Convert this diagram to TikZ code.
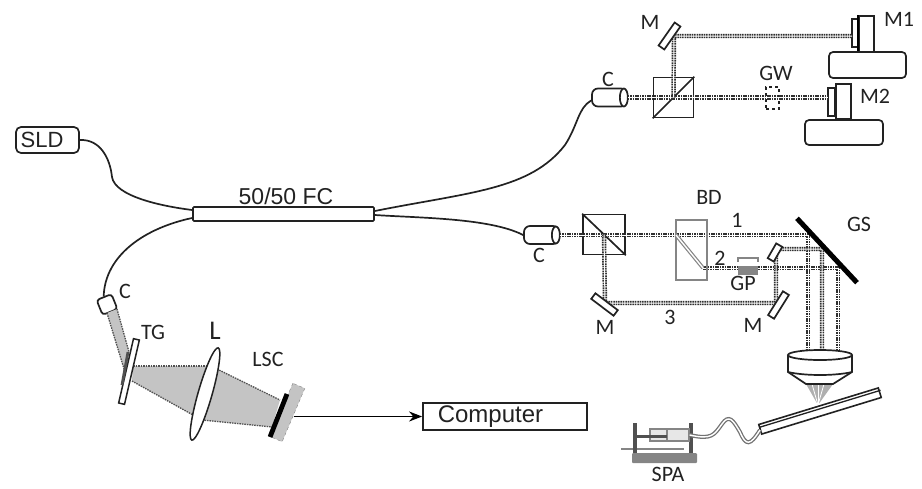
\documentclass[tikz,border=0pt]{standalone}
\usepackage{fontspec}
\setmainfont{Carlito}
\newfontfamily\arialfont{Liberation Sans}
\usepackage{tikz}
\usetikzlibrary{arrows.meta, shapes.geometric}
\definecolor{BeamGray}{HTML}{303030}
\definecolor{FillGray}{HTML}{C4C4C4}
\definecolor{BoxGray}{HTML}{858585}
\definecolor{PumpGray}{HTML}{505050}
\definecolor{LineDark}{HTML}{222222}
\tikzset{
  lbl/.style={font=\fontsize{22}{24}\selectfont, inner sep=0pt, text=LineDark},
  arialLbl/.style={font=\arialfont\fontsize{#1}{#1}\selectfont, inner sep=0pt, text=LineDark},
  arialLbl/.default=23,
  optic/.style={draw=LineDark, line width=1.7pt, inner sep=0pt},
  bscube/.style={optic, minimum width=40pt, minimum height=40pt},
  collim/.style={optic, fill=white, rounded corners=6pt, minimum width=35pt, minimum height=18pt},
  flatmirror/.style={optic, fill=white, minimum width=28pt, minimum height=7pt},
  fibre/.style={line width=1.7pt, color=LineDark},
  beam/.style={line width=4.4pt, color=BeamGray, dash pattern=on 1.6pt off .8pt,
    postaction={draw=white, solid, line width=1pt}},
  edgeDots/.style={draw=PumpGray, line width=1.3pt, dash pattern=on 1.5pt off 1pt},
  stagebox/.style={optic, rounded corners=4pt},
}
\begin{document}
\begin{tikzpicture}[x=1pt, y=-1pt]
\useasboundingbox (0,0) rectangle (922,488);

% Fibre part
\node[optic, rounded corners=5pt, minimum width=63pt, minimum height=26pt, arialLbl=22] at (47.5,140) (sld) {SLD\kern11pt};
\node[optic, rounded corners=1pt, minimum width=181pt, minimum height=14pt] at (283.5,214) (fc) {};
\node[arialLbl=23] at (286,196) (fclabel) {50/50 FC};
\node[collim] at (609.5,97.5) (cupper) {};
\draw[optic, fill=white] ([xshift=-4pt]cupper.east) ellipse [x radius=4, y radius=9];
\node[collim] at (541.5,235) (clower) {};
\draw[optic, fill=white] ([xshift=-4pt]clower.east) ellipse [x radius=4, y radius=8.5];
\node[optic, fill=white, rounded corners=3pt, minimum width=16pt, minimum height=16pt, rotate=22] at (107,304.5) (cleft) {};
\draw[fibre] (sld.east) .. controls (100,139) and (110,158) .. (112,177) .. controls (115,196) and (160,206) .. ([yshift=4pt]fc.west);
\draw[fibre] ([yshift=3pt]fc.east) .. controls (470,192) and (530,190) .. (565,145) .. controls (578,125) and (578,108) .. ([yshift=-3pt]cupper.west);
\draw[fibre] ([yshift=-1pt]fc.east) .. controls (420,218) and (490,218) .. (clower.west);
\draw[fibre] ([yshift=-4pt]fc.west) .. controls (145,228) and (105,255) .. (cleft.north);
\node[lbl] at (608,79) (cupperlabel) {C};
\node[lbl] at (539,255) (clowerlabel) {C};
\node[lbl] at (125,291) (cleftlabel) {C};

% Reference arm
\node[bscube] at (673.5,97.5) (bsupper) {};
\draw[line width=1.7pt, color=LineDark] (bsupper.south west) -- (bsupper.north east);
\coordinate (mupper) at (674,36);
\coordinate (endone) at (852,36);
\coordinate (endtwo) at (828,97.5);
\node[draw=LineDark, dashed, line width=1.3pt, minimum width=13pt, minimum height=22pt] at (772.5,98) (gw) {};
\node[optic, minimum width=6pt, minimum height=28pt] at (855,33) (plateone) {};
\node[optic, minimum width=15pt, minimum height=36pt] at (866.5,34) (bodyone) {};
\draw[line width=2.4pt, color=black] (bodyone.north west) -- (bodyone.south west);
\node[stagebox, minimum width=77pt, minimum height=26pt] at (867.5,65) (stageone) {};
\node[optic, minimum width=7pt, minimum height=28pt] at (831.5,102) (platetwo) {};
\node[optic, minimum width=15pt, minimum height=35pt] at (843.5,101.5) (bodytwo) {};
\node[stagebox, minimum width=78pt, minimum height=25pt] at (844,132.5) (stagetwo) {};
\draw[beam] (cupper.east) -- (endtwo);
\draw[beam] (bsupper.center) -- (mupper) -- (endone);
\node[flatmirror, rotate=55] at (669.5,36) (mirrorupper) {};
\node[lbl] at (650,22) (mupperlabel) {M};
\node[lbl] at (776,73) (gwlabel) {GW};
\node[lbl] at (899,19) (monelabel) {M1};
\node[lbl] at (875,96) (mtwolabel) {M2};

% Sample arm
\node[bscube, minimum width=42pt] at (604,234.5) (bslower) {};
\draw[line width=1.7pt, color=LineDark] (bslower.north west) -- (bslower.south east);
\coordinate (split) at (703,268);
\coordinate (gsone) at (808,235);
\coordinate (gstwo) at (838,268);
\coordinate (gsthree) at (822,249);
\coordinate (mthree) at (605,303);
\coordinate (mfour) at (776,303);
\coordinate (mfive) at (776,249);
\coordinate (objone) at (808,350);
\coordinate (objtwo) at (822,350);
\coordinate (objthree) at (838,350);
\draw[beam] (clower.east) -- (gsone) -- (objone);
\draw[beam] (split) -- (gstwo) -- (objthree);
\draw[beam] (bslower.center) -- (mthree) -- (mfour) -- (mfive) -- (gsthree) -- (objtwo);
\node[draw=BoxGray, line width=1.5pt, minimum width=31pt, minimum height=60pt, inner sep=0pt] at (691.5,250) (bd) {};
\draw[BoxGray, line width=3.8pt] (676,235) -- (split);
\draw[white, line width=1.4pt] (676,235) -- (split);
\node[fill=BoxGray, minimum width=20pt, minimum height=9pt, inner sep=0pt] at (748,270.5) (gp) {};
\draw[line width=1.2pt, color=BoxGray] (738,262) -- (738,258) -- (758,258) -- (758,262);
\node[flatmirror, minimum width=28pt, rotate=-37] at (604.5,304.5) (mirrorthree) {};
\node[flatmirror, minimum width=28pt, rotate=58] at (778.5,305) (mirrorfour) {};
\node[flatmirror, minimum width=17pt, rotate=60] at (775,252.5) (mirrorfive) {};
\node[fill=black, minimum width=88pt, minimum height=5pt, inner sep=0pt, rotate=-47] at (827,250.5) (gs) {};
\node[lbl] at (709,197) (bdlabel) {BD};
\node[lbl] at (859,224) (gslabel) {GS};
\node[lbl] at (737,220) (onelabel) {1};
\node[lbl] at (720,258) (twolabel) {2};
\node[lbl] at (670,317) (threelabel) {3};
\node[lbl] at (743,283) (gplabel) {GP};
\node[lbl] at (605,327) (mthreelabel) {M};
\node[lbl] at (753,325) (mfourlabel) {M};

% Objective and capillary
\coordinate (focus) at (818,405);
\fill[FillGray!70!gray] (806,384) -- (focus) -- (833,384) -- cycle;
\foreach \xa in {812,818,824} {
  \draw[white, line width=.8pt] (\xa,384) -- (focus);
}
\draw[optic, fill=white] (788,355) -- (788,372) -- (806,384) -- (833,384) -- (852,372) -- (852,355);
\draw[optic] (788,372) .. controls (805,376) and (835,376) .. (852,372);
\draw[optic, fill=white] (820,355) ellipse [x radius=32, y radius=5];
\node[draw=LineDark, fill=white, line width=1.6pt, minimum width=125pt, minimum height=10pt, inner sep=0pt, rotate=17] at (820,411) (capillary) {};
\draw[line width=1.3pt, color=LineDark] ([yshift=2.2pt]capillary.west) -- ([yshift=2.2pt]capillary.east);

% Syringe pump
\node[fill=BoxGray, rounded corners=1pt, minimum width=65pt, minimum height=10pt, inner sep=0pt] at (664.5,458) (rail) {};
\draw[line width=2.4pt, color=BoxGray] (621,449) -- (684,449);
\draw[line width=3.8pt, color=PumpGray] (635,423) -- (635,453);
\draw[line width=3.8pt, color=PumpGray] (691,423) -- (691,453);
\node[draw=BoxGray, fill=FillGray!40, line width=1.2pt, minimum width=39pt, minimum height=12pt, inner sep=0pt] at (669.5,435) (syringe) {};
\draw[line width=1.2pt, color=BoxGray] (667,429) -- (667,441);
\draw[line width=3pt, color=PumpGray] (637,436) -- (667,436);
\draw[line width=4pt, color=PumpGray!80] (syringe.east) .. controls (712,440) and (714,435) .. (722,424) .. controls (729,414) and (733,420) .. (740,432) .. controls (746,446) and (750,446) .. (760,430);
\draw[line width=1.4pt, color=white] (syringe.east) .. controls (712,440) and (714,435) .. (722,424) .. controls (729,414) and (733,420) .. (740,432) .. controls (746,446) and (750,446) .. (760,430);
\node[lbl] at (668,474.5) (spalabel) {SPA};

% Spectrometer
\fill[FillGray] (107,313) -- (117,309) -- (129,352) -- (125,372) -- cycle;
\fill[FillGray] (133,366) -- (208,366) -- (193,415) -- (132,381) -- cycle;
\fill[FillGray] (217,369) -- (280,400) -- (272,427) -- (202,420) -- cycle;
\draw[edgeDots] (133,366) -- (208,366);
\draw[edgeDots] (132,381) -- (193,415);
\draw[edgeDots] (217,369) -- (280,400);
\draw[edgeDots] (202,420) -- (272,427);
\draw[edgeDots] (117,309) -- (129,352);
\draw[edgeDots] (107,313) -- (125,372);
\node[draw=LineDark, fill=white, line width=1.5pt, minimum width=66pt, minimum height=6pt, inner sep=0pt, rotate=77] at (129,371.5) (tg) {};
\draw[line width=2.8pt, color=PumpGray] (128,352) -- (122,385);
\node[ellipse, draw=LineDark, fill=white, line width=1.5pt, minimum width=96pt, minimum height=14pt, inner sep=0pt, rotate=74] at (205,394) (lens) {};
\node[fill=FillGray, draw=BoxGray, dashed, minimum width=58pt, minimum height=13pt, inner sep=0pt, rotate=67] at (287.5,412.5) (lsc) {};
\draw[line width=4.8pt, color=black] (287,394) -- (270,437);
\node[draw=LineDark, line width=1.8pt, minimum width=164pt, minimum height=27pt, inner sep=0pt, arialLbl=24] at (505,416.5) (computer) {Computer\kern29pt};
\draw[-{Stealth[length=13pt, width=10pt]}, line width=1.7pt, color=black] (lsc.south |- computer.west) -- (computer.west);
\node[lbl] at (153,332) (tglabel) {TG};
\node[lbl, font=\fontsize{27}{29}\selectfont] at (215,331) (llabel) {L};
\node[lbl] at (268,359) (lsclabel) {LSC};

\end{tikzpicture}
\end{document}
